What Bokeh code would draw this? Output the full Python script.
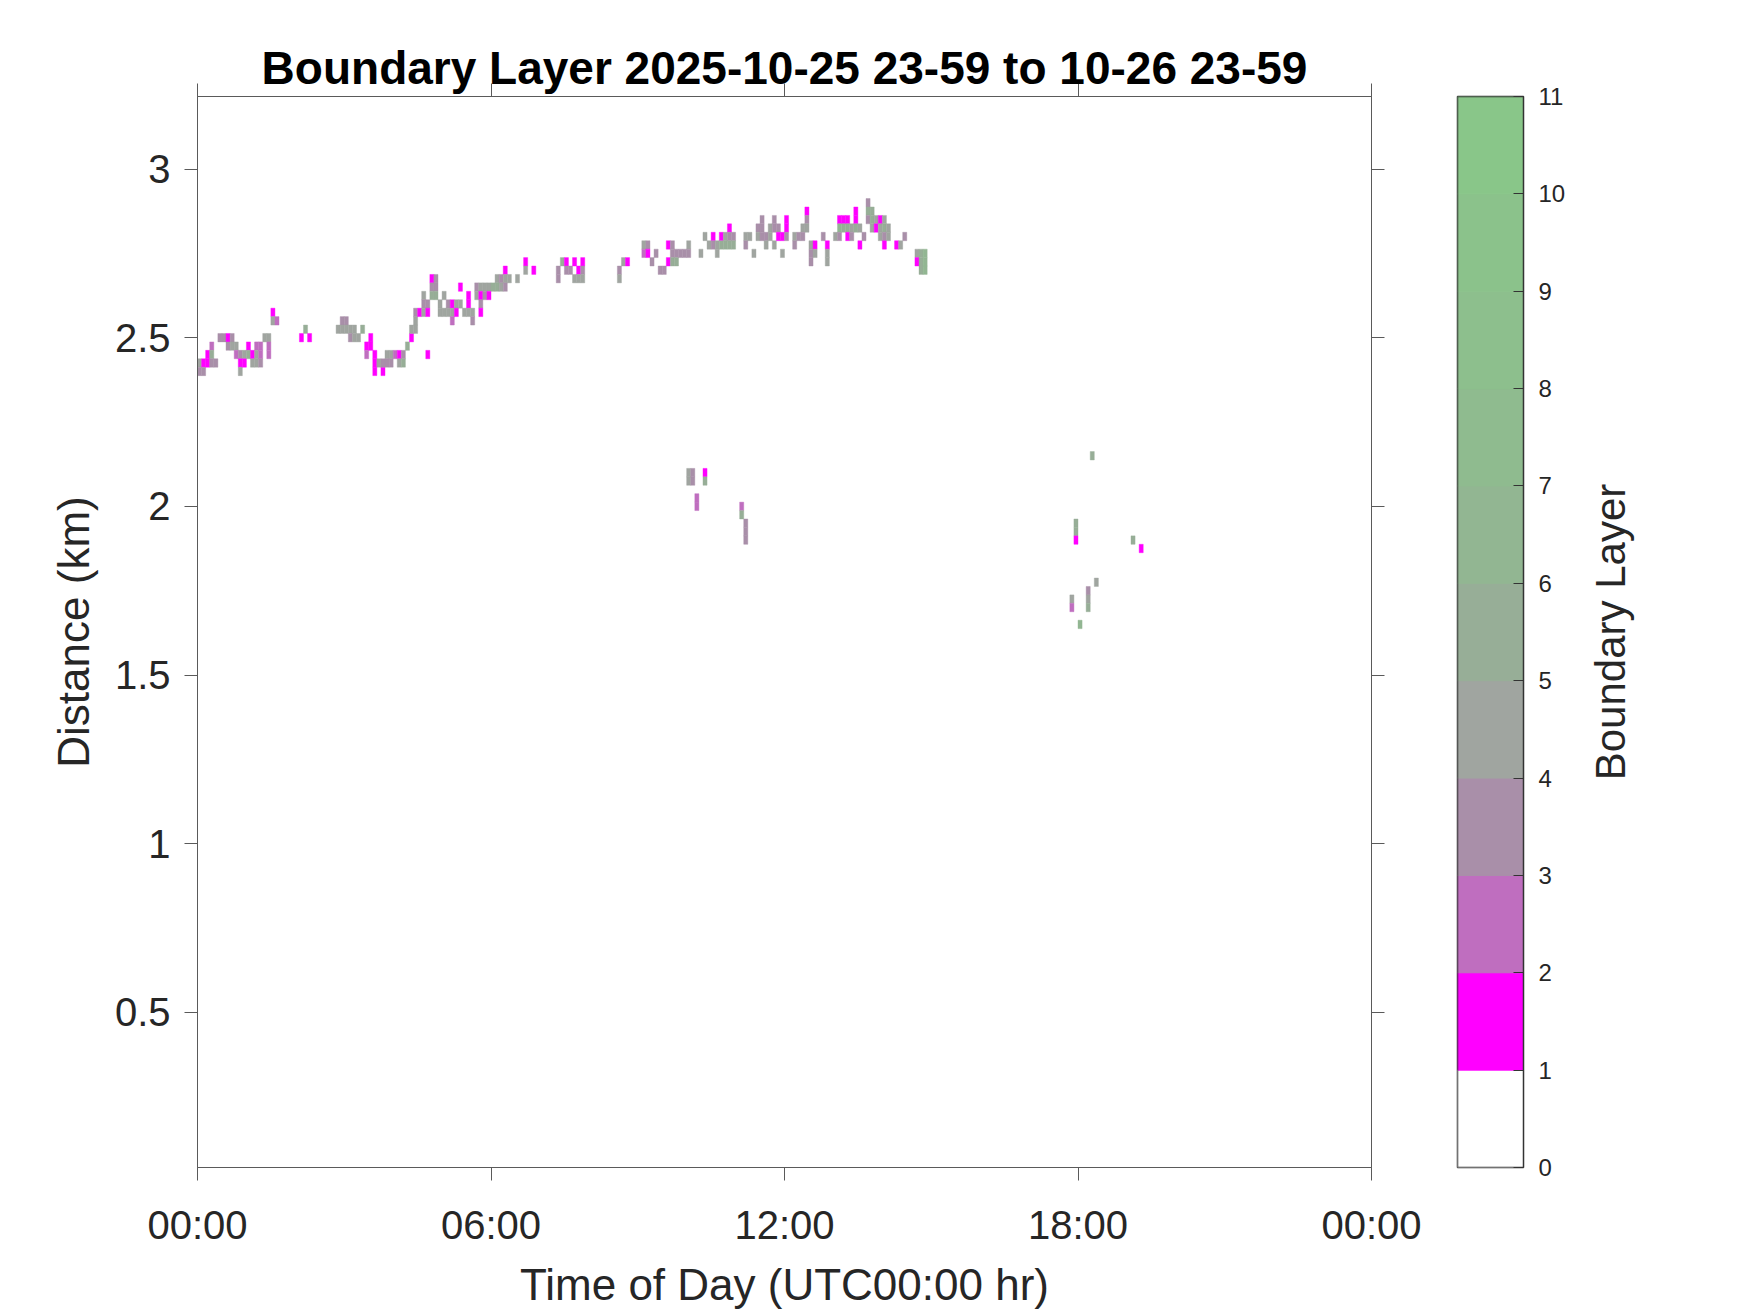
from bokeh.plotting import figure
from bokeh.layouts import row
from bokeh.models import (ColumnDataSource, LinearColorMapper, FixedTicker,
                          LinearAxis, Range1d, CustomJSTickFormatter)
from bokeh.transform import transform
from bokeh.embed import file_html
from bokeh.resources import INLINE

# ---------------- data ----------------
# Boundary-layer cells: 5-minute bin index after 00:00 UTC, cell centre height (km), class value
col_index = (
    [0, 0, 1, 1, 2, 2, 3, 3, 3, 4, 5, 6, 7, 7, 8, 8, 9, 9, 10, 10, 10, 11, 11, 12, 12, 13, 13,
     14, 14, 14, 15, 15, 15, 16, 17, 17, 17, 18, 18, 19, 25, 26, 27, 34, 35, 35, 36, 36, 37, 37,
     38, 38, 39, 40, 41, 41, 42, 42, 43, 43, 43, 44, 45, 45, 46, 46, 47, 47, 48, 49, 49, 50, 50,
     51, 52, 52, 53, 53, 53, 54, 55, 55, 55, 56, 56, 56, 57, 57, 57, 58, 58, 58, 59, 59, 60, 60,
     61, 61, 62, 62, 62, 63, 63, 64, 64, 65, 66, 66, 66, 67, 67, 68, 68, 69, 69, 69, 69, 70, 70,
     71, 71, 72, 73, 73, 74, 74, 75, 75, 75, 76, 78, 80, 80, 82, 88, 88, 89, 90, 90, 91, 92, 92,
     93, 93, 94, 94, 94]
    + [103, 103, 104, 105, 109, 109, 110, 110, 111, 112, 113, 114, 115, 115, 116, 116, 116, 117,
       117, 118, 119, 120, 120, 120, 120, 121, 121, 122, 122, 123, 124, 124, 124, 125, 126, 126,
       127, 127, 128, 128, 129, 129, 130, 130, 130, 131, 131, 133, 133, 134, 134, 134, 134, 134,
       135, 136, 137, 137, 138, 138, 138, 139, 139, 140, 140, 141, 141, 141, 142, 142, 143, 143,
       144, 144, 144, 146, 146, 147, 148, 148, 149, 149, 149, 150, 150, 150, 151, 151, 153, 154,
       154, 154, 156, 157, 157, 157, 158, 158, 159, 159, 159, 160, 160, 161, 161, 161, 162, 162,
       163, 164, 164, 164, 165, 165, 165, 166, 166, 167, 167, 167, 168, 168, 168, 168, 169, 169,
       171, 172, 173, 176, 176, 177, 177, 177, 178, 178, 178]
    + [214, 214, 215, 215, 215, 216, 218, 218, 218, 219, 220, 229, 231]
)
bin_minutes = 5
time_min = [bin_minutes * c for c in col_index]

height_km = (
    [2.425, 2.400, 2.425, 2.400, 2.450, 2.425, 2.475, 2.450, 2.425, 2.425, 2.500, 2.500, 2.500,
     2.475, 2.500, 2.475, 2.475, 2.450, 2.450, 2.425, 2.400, 2.450, 2.425, 2.475, 2.450, 2.450,
     2.425, 2.475, 2.450, 2.425, 2.475, 2.450, 2.425, 2.500, 2.500, 2.475, 2.450, 2.575, 2.550,
     2.550, 2.500, 2.525, 2.500, 2.525, 2.550, 2.525, 2.550, 2.525, 2.525, 2.500, 2.525, 2.500,
     2.500, 2.525, 2.475, 2.450, 2.500, 2.475, 2.450, 2.425, 2.400, 2.425, 2.400, 2.425, 2.450,
     2.425, 2.450, 2.425, 2.450, 2.450, 2.425, 2.450, 2.425, 2.475, 2.500, 2.525, 2.525, 2.550,
     2.575, 2.575, 2.625, 2.600, 2.575, 2.600, 2.575, 2.450, 2.675, 2.650, 2.625, 2.675, 2.650,
     2.625, 2.600, 2.575, 2.625, 2.575, 2.600, 2.575, 2.600, 2.575, 2.550, 2.600, 2.575, 2.650,
     2.600, 2.575, 2.625, 2.600, 2.575, 2.575, 2.550, 2.650, 2.625, 2.650, 2.625, 2.600, 2.575,
     2.650, 2.625, 2.650, 2.625, 2.650, 2.675, 2.650, 2.675, 2.650, 2.700, 2.675, 2.650, 2.675,
     2.675, 2.725, 2.700, 2.700, 2.700, 2.675, 2.725, 2.725, 2.700, 2.700, 2.725, 2.675, 2.700,
     2.675, 2.725, 2.700, 2.675]
    + [2.700, 2.675, 2.725, 2.725, 2.775, 2.750, 2.775, 2.750, 2.725, 2.750, 2.700, 2.700, 2.775,
       2.725, 2.775, 2.750, 2.725, 2.750, 2.725, 2.750, 2.750, 2.775, 2.750, 2.100, 2.075, 2.100,
       2.075, 2.025, 2.000, 2.750, 2.800, 2.100, 2.075, 2.775, 2.800, 2.775, 2.775, 2.750, 2.800,
       2.775, 2.800, 2.775, 2.825, 2.800, 2.775, 2.800, 2.775, 2.000, 1.975, 2.800, 2.775, 1.950,
       1.925, 1.900, 2.800, 2.750, 2.825, 2.800, 2.850, 2.825, 2.800, 2.800, 2.775, 2.825, 2.800,
       2.850, 2.825, 2.775, 2.825, 2.800, 2.800, 2.750, 2.850, 2.825, 2.800, 2.800, 2.775, 2.800,
       2.825, 2.800, 2.875, 2.850, 2.825, 2.775, 2.750, 2.725, 2.775, 2.750, 2.800, 2.775, 2.750,
       2.725, 2.800, 2.850, 2.825, 2.800, 2.850, 2.825, 2.850, 2.825, 2.800, 2.825, 2.800, 2.875,
       2.850, 2.825, 2.825, 2.775, 2.800, 2.900, 2.875, 2.850, 2.875, 2.850, 2.825, 2.850, 2.825,
       2.850, 2.825, 2.800, 2.850, 2.825, 2.800, 2.775, 2.825, 2.800, 2.775, 2.775, 2.800, 2.750,
       2.725, 2.750, 2.725, 2.700, 2.750, 2.725, 2.700]
    + [1.725, 1.700, 1.950, 1.925, 1.900, 1.650, 1.750, 1.725, 1.700, 2.150, 1.775, 1.900, 1.875]
)

bl_class = (
    [4, 3, 1, 3, 1, 1, 2, 5, 3, 3, 3, 3, 1, 3, 3, 4, 4, 2, 3, 1, 4, 4, 1, 1, 5, 1, 4, 2, 4, 4, 2,
     2, 3, 4, 4, 2, 2, 1, 4, 2, 1, 5, 1, 4, 3, 4, 3, 4, 4, 3, 4, 4, 4, 5, 1, 2, 1, 1, 1, 1, 1, 4,
     1, 3, 4, 3, 4, 3, 2, 1, 4, 3, 5, 5, 1, 4, 4, 4, 3, 1, 4, 3, 4, 3, 1, 1, 1, 3, 5, 3, 3, 5, 4,
     4, 4, 4, 3, 4, 1, 4, 2, 4, 1, 1, 4, 4, 1, 1, 4, 4, 3, 3, 4, 4, 1, 3, 1, 4, 3, 4, 1, 5, 4, 5,
     3, 4, 1, 4, 3, 4, 4, 1, 4, 1, 3, 3, 5, 1, 3, 3, 1, 4, 1, 4, 1, 3, 4]
    + [3, 4, 4, 1, 4, 2, 3, 1, 3, 3, 3, 3, 1, 1, 3, 3, 5, 3, 5, 3, 3, 4, 3, 4, 4, 3, 3, 2, 2, 4,
       4, 1, 5, 4, 1, 3, 4, 4, 1, 5, 4, 5, 1, 3, 5, 3, 5, 2, 5, 4, 3, 3, 3, 3, 4, 4, 3, 4, 3, 3,
       3, 3, 4, 4, 4, 3, 3, 4, 3, 1, 1, 4, 1, 1, 3, 4, 3, 3, 4, 3, 1, 3, 4, 4, 3, 3, 1, 4, 3, 1,
       4, 4, 4, 1, 6, 3, 1, 5, 1, 5, 1, 4, 3, 1, 1, 5, 4, 1, 3, 3, 5, 3, 5, 5, 4, 4, 1, 1, 4, 4,
       4, 5, 3, 1, 4, 4, 1, 4, 3, 4, 1, 5, 5, 5, 6, 6, 6]
    + [4, 2, 5, 5, 1, 6, 3, 4, 5, 5, 4, 5, 1]
)

# colour classes of the colour bar (0..11)
class_edges = list(range(12))
class_colors = ["#FFFFFF", "#FF00FF", "#BF6EBF", "#A98FA9", "#A0A5A0", "#97AE97",
                "#92B692", "#8FBB8F", "#8DBF8D", "#8BC28B", "#89C689"]

x_tick_hours = [0, 6, 12, 18, 24]
x_tick_labels = ["00:00", "06:00", "12:00", "18:00", "00:00"]
y_ticks_km = [0.5, 1, 1.5, 2, 2.5, 3]
bin_height_km = 0.025

# ---------------- figure ----------------
FONT = "Liberation Sans"
AX = "#5a5a5a"
TXT = "#262626"
TOP, BOTTOM, FRAME_H = 96, 145, 1071

src = ColumnDataSource(dict(
    x=[(t + bin_minutes / 2) / 60 for t in time_min],
    y=height_km,
    v=[c + 0.5 for c in bl_class],
))

mapper = LinearColorMapper(palette=class_colors, low=class_edges[0], high=class_edges[-1])
y_lo, y_hi = 0.04, 3.215

p = figure(frame_width=1174, frame_height=FRAME_H,
           x_range=Range1d(0, 24), y_range=Range1d(y_lo, y_hi),
           output_backend="svg", toolbar_location=None,
           min_border_left=197, min_border_top=TOP, min_border_bottom=BOTTOM, min_border_right=62)

p.rect(x="x", y="y", width=bin_minutes / 60, height=bin_height_km, source=src,
       fill_color=transform("v", mapper), line_color=transform("v", mapper), line_width=0.4)

p.xgrid.grid_line_color = None
p.ygrid.grid_line_color = None
p.outline_line_color = AX
p.background_fill_color = "white"
p.border_fill_color = "white"

xfmt = CustomJSTickFormatter(args=dict(vals=x_tick_hours, labs=x_tick_labels), code="""
let best = 0, d = 1e9;
for (let i = 0; i < vals.length; i++) { const e = Math.abs(vals[i] - tick); if (e < d) { d = e; best = i; } }
return labs[best];
""")
yfmt = CustomJSTickFormatter(code="return (Math.round(tick * 10) / 10).toString();")


def style_axis(ax, labels=True):
    ax.axis_line_color = AX
    ax.major_tick_line_color = AX
    ax.minor_tick_line_color = None
    ax.major_tick_out = 13
    ax.major_tick_in = 0
    ax.major_label_text_font = FONT
    if labels:
        ax.major_label_text_font_size = "40px"
        ax.major_label_text_color = TXT
    else:
        ax.major_label_text_font_size = "1px"
        ax.major_label_text_color = None
        ax.major_label_standoff = 0


p.xaxis.ticker = FixedTicker(ticks=x_tick_hours)
p.xaxis.formatter = xfmt
p.yaxis.ticker = FixedTicker(ticks=y_ticks_km)
p.yaxis.formatter = yfmt
style_axis(p.xaxis[0])
style_axis(p.yaxis[0])
p.xaxis.major_label_standoff = 22
p.yaxis.major_label_standoff = 14
p.xaxis.axis_label = "Time of Day (UTC00:00 hr)"
p.yaxis.axis_label = "Distance (km)"
for ax in (p.xaxis[0], p.yaxis[0]):
    ax.axis_label_text_font = FONT
    ax.axis_label_text_font_size = "44px"
    ax.axis_label_text_font_style = "normal"
    ax.axis_label_text_color = TXT
p.xaxis.axis_label_standoff = 10
p.yaxis.axis_label_standoff = 14

top_axis = LinearAxis(ticker=FixedTicker(ticks=x_tick_hours))
style_axis(top_axis, labels=False)
p.add_layout(top_axis, "above")

right_axis = LinearAxis(ticker=FixedTicker(ticks=y_ticks_km))
style_axis(right_axis, labels=False)
p.add_layout(right_axis, "right")

p.title.text = "Boundary Layer 2025-10-25 23-59 to 10-26 23-59"
p.title.align = "center"
p.title.text_font = FONT
p.title.text_font_style = "bold"
p.title.text_font_size = "46px"
p.title.text_color = "black"
p.title.standoff = -20

# ---------------- colour bar (drawn from the class edges / colours) ----------------
cbar = figure(frame_width=66, frame_height=FRAME_H,
              x_range=Range1d(0, 1), y_range=Range1d(class_edges[0], class_edges[-1]),
              output_backend="svg", toolbar_location=None,
              x_axis_location=None, y_axis_location="right",
              min_border_left=24, min_border_right=60, min_border_top=TOP, min_border_bottom=BOTTOM)
cbar.quad(left=0, right=1, bottom=class_edges[:-1], top=class_edges[1:],
          fill_color=class_colors, line_color=class_colors, line_width=1)
cbar.quad(left=0, right=1, bottom=class_edges[0], top=class_edges[-1],
          fill_color=None, line_color="#333333", line_width=1.5)
cbar.xgrid.grid_line_color = None
cbar.ygrid.grid_line_color = None
cbar.outline_line_color = "#333333"
cbar.outline_line_width = 1.5
cbar.background_fill_color = "white"
cbar.border_fill_color = None
cbar.yaxis.ticker = FixedTicker(ticks=class_edges)
cbar.yaxis.axis_line_color = "#333333"
cbar.yaxis.major_tick_line_color = "#333333"
cbar.yaxis.minor_tick_line_color = None
cbar.yaxis.major_tick_in = 10
cbar.yaxis.major_tick_out = 0
cbar.yaxis.major_label_standoff = 15
cbar.yaxis.major_label_text_font = FONT
cbar.yaxis.major_label_text_font_size = "24px"
cbar.yaxis.major_label_text_color = TXT

# ---------------- colour-bar caption (reads bottom-to-top) ----------------
q = figure(frame_width=10, frame_height=FRAME_H, x_range=Range1d(0, 1), y_range=Range1d(y_lo, y_hi),
           output_backend="svg", toolbar_location=None, x_axis_location=None,
           min_border_left=0, min_border_right=0, min_border_top=TOP, min_border_bottom=BOTTOM)
q.outline_line_color = None
q.xgrid.grid_line_color = None
q.ygrid.grid_line_color = None
q.yaxis.ticker = FixedTicker(ticks=[])
q.yaxis.axis_line_color = None
q.yaxis.major_tick_line_color = None
q.yaxis.minor_tick_line_color = None
q.yaxis.major_tick_out = 0
q.yaxis.major_label_standoff = 0
q.yaxis.axis_label = "Boundary Layer"
q.yaxis.axis_label_standoff = 0
q.yaxis.axis_label_text_font = FONT
q.yaxis.axis_label_text_font_size = "42px"
q.yaxis.axis_label_text_font_style = "normal"
q.yaxis.axis_label_text_color = TXT

layout = row(p, cbar, q, spacing=0)
open("out.html", "w").write(file_html(layout, INLINE))
